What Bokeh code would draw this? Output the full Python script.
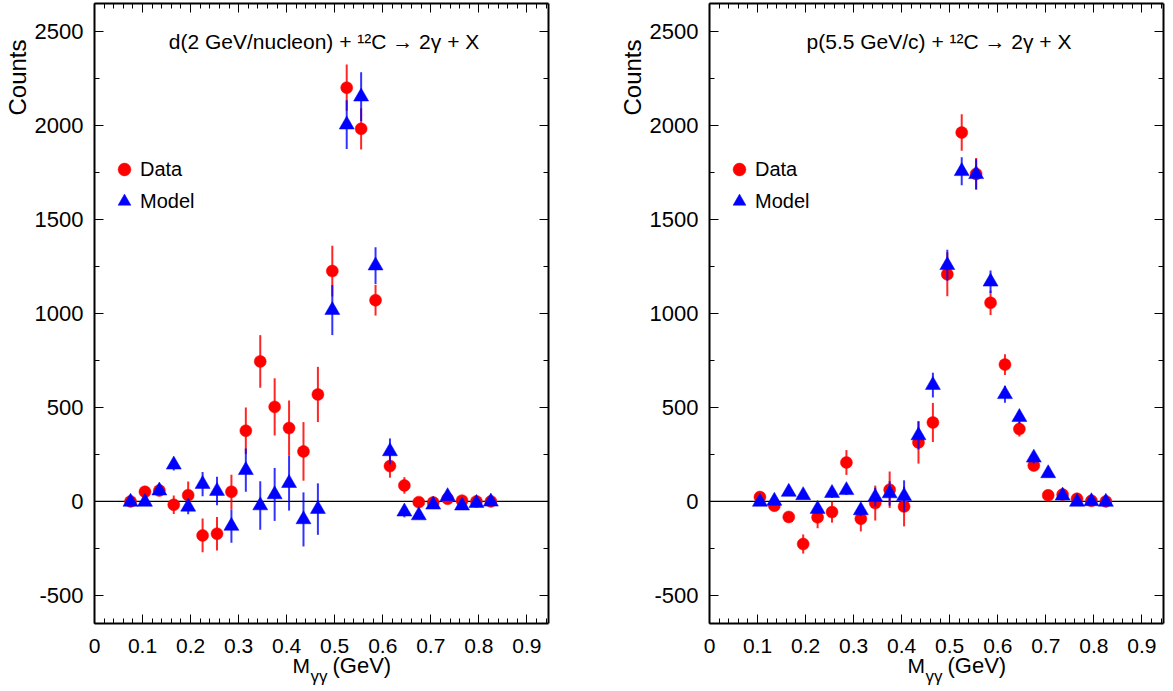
import math
from bokeh.plotting import figure
from bokeh.models import (Range1d, LinearAxis, SingleIntervalTicker, CustomJSTickFormatter,
                          Label, Legend, LegendItem, ColumnDataSource)
from bokeh.layouts import row
from bokeh.embed import file_html
from bokeh.resources import INLINE

# ---------------- data ----------------
# left panel: d(2 GeV/nucleon) + 12C
left_mass = [0.075, 0.105, 0.135, 0.165, 0.195, 0.225, 0.255, 0.285, 0.315, 0.345,
             0.375, 0.405, 0.435, 0.465, 0.495, 0.525, 0.555, 0.585, 0.615, 0.645,
             0.675, 0.705, 0.735, 0.765, 0.795, 0.825]
left_data = [0, 51, 58, -18, 33, -181, -172, 51, 376, 745,
             503, 390, 266, 569, 1226, 2202, 1983, 1071, 188, 85,
             -4, -6, 14, 4, 0, 0]
left_data_err = [10, 20, 25, 49, 73, 90, 89, 91, 124, 140,
                 152, 147, 156, 147, 135, 123, 110, 82, 62, 44,
                 15, 12, 10, 8, 5, 5]
left_model = [-3, -3, 57, 195, -29, 92, 55, -131, 166, -22,
              37, 97, -96, -41, 1018, 2005, 2154, 1255, 266, -55,
              -75, -18, 27, -23, -9, -2]
left_model_err = [10, 15, 25, 30, 40, 65, 76, 89, 115, 129,
                  141, 146, 144, 137, 133, 130, 130, 98, 69, 30,
                  20, 15, 10, 10, 8, 6]

# right panel: p(5.5 GeV/c) + 12C
right_mass = [0.105, 0.135, 0.165, 0.195, 0.225, 0.255, 0.285, 0.315, 0.345, 0.375,
              0.405, 0.435, 0.465, 0.495, 0.525, 0.555, 0.585, 0.615, 0.645, 0.675,
              0.705, 0.735, 0.765, 0.795, 0.825]
right_data = [23, -23, -83, -227, -85, -57, 207, -92, -9, 62,
              -27, 314, 420, 1209, 1963, 1743, 1057, 728, 385, 191,
              32, 36, 14, 3, 0]
right_data_err = [15, 15, 20, 51, 58, 56, 66, 68, 93, 97,
                  106, 113, 104, 117, 97, 84, 65, 55, 40, 30,
                  15, 12, 10, 6, 5]
right_model = [-3, 2, 50, 32, -41, 44, 59, -48, 23, 42,
               28, 351, 619, 1257, 1757, 1741, 1169, 570, 448, 232,
               149, 30, -3, 0, -3]
right_model_err = [10, 12, 15, 15, 20, 25, 25, 30, 50, 65,
                   84, 75, 66, 82, 74, 80, 60, 45, 35, 30,
                   20, 12, 10, 8, 6]

left_title = "d(2 GeV/nucleon) + \u00b9\u00b2C \u2192 2\u03b3 + X"
right_title = "p(5.5 GeV/c) + \u00b9\u00b2C \u2192 2\u03b3 + X"
y_label = "Counts"
x_label_main = "M"
x_label_sub = "\u03b3\u03b3"
x_label_unit = "(GeV)"
legend_labels = ["Data", "Model"]

# axis limits of each panel
X_MIN, X_MAX = 0.0, 0.945
Y_MIN, Y_MAX = -650.0, 2650.0

FONT = "Liberation Sans"
H = 691
PLOT_TOP, PLOT_BOTTOM = 3, 623          # pixel rows of the plotting box
PLOT_W = 454


def make_panel(width, plot_left, title, mass, data, data_err, model, model_err):
    # whole canvas is the frame; axes are pinned at the plotting box edges
    xs = (X_MAX - X_MIN) / PLOT_W
    ys = (Y_MAX - Y_MIN) / (PLOT_BOTTOM - PLOT_TOP)
    xr = Range1d(X_MIN - plot_left * xs, X_MAX + (width - plot_left - PLOT_W) * xs)
    yr = Range1d(Y_MIN - (H - PLOT_BOTTOM) * ys, Y_MAX + PLOT_TOP * ys)

    p = figure(width=width, height=H, min_border=0, x_range=xr, y_range=yr,
               output_backend="svg", toolbar_location=None,
               x_axis_location=None, y_axis_location=None)
    p.xgrid.visible = False
    p.ygrid.visible = False
    p.outline_line_color = None
    p.background_fill_color = "white"
    p.border_fill_color = "white"

    def pin(ax, loc, bounds, ticker, labels, size="22px", standoff=10):
        ax.fixed_location = loc
        ax.bounds = bounds
        ax.ticker = ticker
        ax.axis_line_color = "black"
        ax.axis_line_width = 2
        ax.major_tick_in = 9
        ax.major_tick_out = 0
        ax.minor_tick_in = 5
        ax.minor_tick_out = 0
        ax.major_tick_line_color = "black"
        ax.minor_tick_line_color = "black"
        if labels is None:
            ax.formatter = CustomJSTickFormatter(code="return '';")
            ax.major_label_standoff = 0
        else:
            ax.formatter = CustomJSTickFormatter(code=labels)
            ax.major_label_text_font = FONT
            ax.major_label_text_font_size = size
            ax.major_label_text_color = "black"
            ax.major_label_standoff = standoff

    xfmt = "return String(Number(tick.toFixed(2)));"
    yfmt = "return tick.toFixed(0);"

    bx = LinearAxis()
    pin(bx, Y_MIN, (X_MIN, X_MAX), SingleIntervalTicker(interval=0.1, num_minor_ticks=5), xfmt, "21px", 15)
    p.add_layout(bx, "below")
    tx = LinearAxis()
    pin(tx, Y_MAX, (X_MIN, X_MAX), SingleIntervalTicker(interval=0.1, num_minor_ticks=5), None)
    p.add_layout(tx, "above")
    ly = LinearAxis()
    pin(ly, X_MIN, (Y_MIN, Y_MAX), SingleIntervalTicker(interval=500, num_minor_ticks=2), yfmt, "22px", 11)
    p.add_layout(ly, "left")
    ry = LinearAxis()
    pin(ry, X_MAX, (Y_MIN, Y_MAX), SingleIntervalTicker(interval=500, num_minor_ticks=2), None)
    p.add_layout(ry, "right")

    # zero line across the plotting box
    p.segment(x0=[X_MIN], y0=[0], x1=[X_MAX], y1=[0], line_color="black", line_width=1.3)

    dsrc = ColumnDataSource(dict(x=mass, y=data,
                                 lo=[v - e for v, e in zip(data, data_err)],
                                 hi=[v + e for v, e in zip(data, data_err)]))
    msrc = ColumnDataSource(dict(x=mass, y=model,
                                 lo=[v - e for v, e in zip(model, model_err)],
                                 hi=[v + e for v, e in zip(model, model_err)]))

    p.segment(x0="x", y0="lo", x1="x", y1="hi", source=dsrc,
              line_color="red", line_width=2, line_alpha=0.85)
    r_data = p.scatter(x="x", y="y", source=dsrc, marker="circle", size=12,
                       fill_color="red", line_color="red", line_width=0.5)
    p.segment(x0="x", y0="lo", x1="x", y1="hi", source=msrc,
              line_color="blue", line_width=2, line_alpha=0.8)
    r_model = p.scatter(x="x", y="y", source=msrc, marker="triangle", size=15,
                        fill_color="blue", line_color="blue", line_width=0.5)

    legend = Legend(items=[LegendItem(label=legend_labels[0], renderers=[r_data]),
                           LegendItem(label=legend_labels[1], renderers=[r_model])],
                    location=(plot_left + 14, 474), glyph_width=32, glyph_height=32, spacing=-1,
                    label_standoff=0, padding=0, margin=0,
                    border_line_color=None, background_fill_alpha=0,
                    label_text_font=FONT, label_text_font_size="20px",
                    label_text_color="black")
    p.add_layout(legend)

    def txt(x, y, text, size, **kw):
        p.add_layout(Label(x=x, y=H - y, x_units="screen", y_units="screen", text=text,
                           text_font=FONT, text_font_size=size, text_color="black", **kw))

    # title, y-title and x-title (positions relative to the plotting box)
    txt(plot_left + 229.5, 41, title, "21px", text_align="center", text_baseline="middle")
    txt(plot_left - 77, 115, y_label, "24px", angle=math.pi / 2,
        text_align="left", text_baseline="middle")
    txt(plot_left + 198, 665, x_label_main, "21px", text_align="left", text_baseline="middle")
    txt(plot_left + 216, 676, x_label_sub, "17px", text_align="left", text_baseline="middle")
    txt(plot_left + 238, 665, x_label_unit, "22px", text_align="left", text_baseline="middle")
    return p


p1 = make_panel(608, 94, left_title, left_mass, left_data, left_data_err,
                left_model, left_model_err)
p2 = make_panel(565, 101, right_title, right_mass, right_data, right_data_err,
                right_model, right_model_err)

layout = row(p1, p2)
open("out.html", "w").write(file_html(layout, INLINE))
